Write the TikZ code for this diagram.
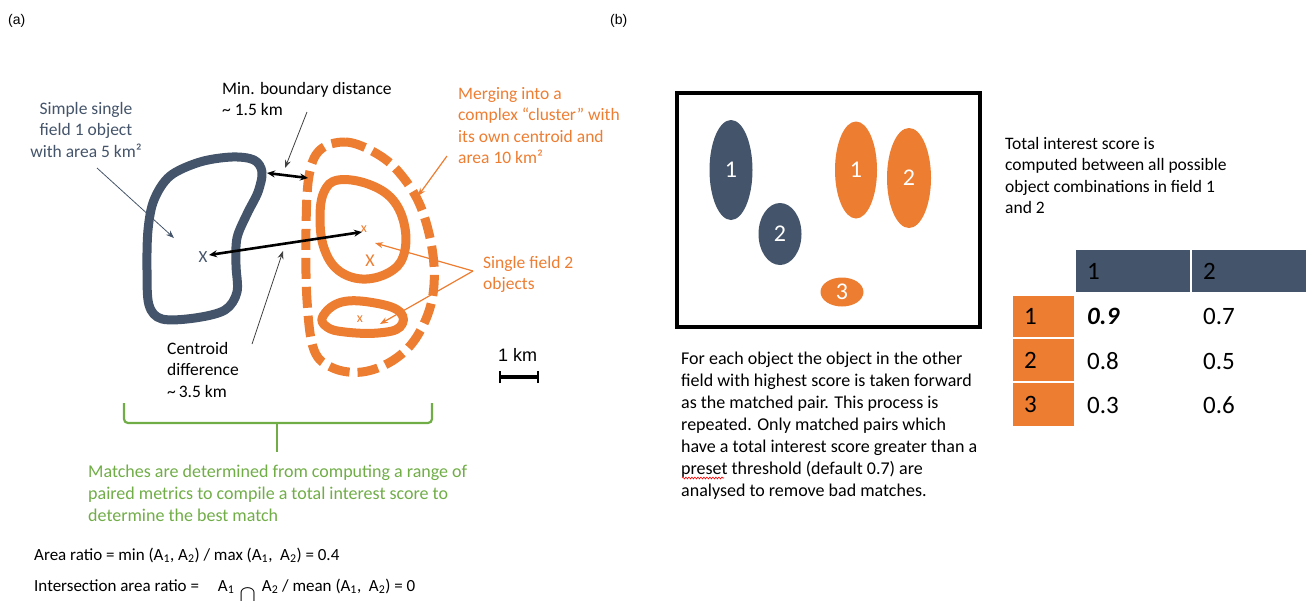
\documentclass[tikz,border=0pt]{standalone}
\usepackage{fontspec}
\setmainfont{Carlito}
\newfontfamily\arialf{Liberation Sans}
\usetikzlibrary{arrows.meta,decorations.pathmorphing,shapes.geometric}
\definecolor{slate}{HTML}{44546A}
\definecolor{orng}{HTML}{ED7D31}
\definecolor{grn}{HTML}{70AD47}
\definecolor{ptrgray}{HTML}{404040}
\begin{document}
\begin{tikzpicture}[x=1pt,y=-1pt,
  txt/.style={inner sep=0pt, anchor=base west, align=left, font=\fontsize{17.5}{21.5}\selectfont},
  txtc/.style={inner sep=0pt, anchor=base, align=center, font=\fontsize{17.5}{21.5}\selectfont},
  btxt/.style={inner sep=0pt, anchor=base west, align=left, font=\fontsize{18}{22}\selectfont},
  ptr/.style={-{Stealth[length=8pt,width=6pt]}, line width=0.8pt},
  dbl/.style={{Stealth[length=8pt,width=7pt]}-{Stealth[length=8pt,width=7pt]}, line width=2.6pt},
  objline/.style={line width=9pt, line join=round},
  obj/.style={ellipse, inner sep=0pt, text=white, font=\fontsize{24}{24}\selectfont},
  hcell/.style={anchor=north west, fill=slate, inner xsep=11pt, inner ysep=0pt, minimum height=42pt, align=left, font=\fontsize{25}{25}\selectfont},
  rcell/.style={anchor=north west, fill=orng, inner xsep=11pt, inner ysep=0pt, minimum height=42pt, text width=39pt, align=left, font=\fontsize{25}{25}\selectfont},
  val/.style={anchor=west, inner sep=0pt, font=\fontsize{25}{25}\selectfont},
  panel/.style={inner sep=0pt, anchor=base west, font=\arialf\fontsize{14}{14}\selectfont}
]
\useasboundingbox (0,0) rectangle (1306,600);

% panel labels
\node[panel] (pa) at (8,24) {(a)};
\node[panel] (pb) at (610,24) {(b)};

% ---------- panel (a) shapes ----------
% field 1 object
\draw[slate, objline] plot[smooth cycle, tension=0.55] coordinates {
  (254,160) (262,172) (258,192) (247,214) (237,238) (236,265) (237,292) (225,310) (195,318)
  (162,319) (149,305) (147,270) (148,230) (154,200) (170,176) (200,162) (232,157)};
% inner orange object
\draw[orng, objline] plot[smooth cycle, tension=0.65] coordinates {
  (338,180) (368,184) (393,200) (405,228) (403,257) (388,273) (362,279) (338,270)
  (324,248) (320,218) (324,192)};
% lower orange object
\draw[orng, objline] plot[smooth cycle, tension=0.7] coordinates {
  (323,316) (342,302) (375,303) (400,312) (400,327) (378,333) (345,332) (327,327)};
% dashed cluster outline
\draw[orng, line width=9pt, dash pattern=on 21pt off 8pt] plot[smooth cycle, tension=0.6] coordinates {
  (320,150) (345,142) (372,151) (397,170) (420,205) (433,255) (432,300) (416,338)
  (392,361) (362,372) (333,368) (314,350) (307,300) (306,230) (309,176)};

% centroid marks
\node[inner sep=0pt, text=slate, font=\fontsize{17}{17}\selectfont] (x1) at (203,257) {X};
\node[inner sep=0pt, text=orng, font=\fontsize{14}{14}\selectfont] (x2) at (364,229) {x};
\node[inner sep=0pt, text=orng, font=\fontsize{18}{18}\selectfont] (x3) at (370,261) {X};
\node[inner sep=0pt, text=orng, font=\fontsize{14}{14}\selectfont] (x4) at (360,319) {x};

% distance arrows
\coordinate (b1) at (267,173);
\coordinate (b2) at (308,178);
\draw[dbl] (b1) -- (b2);
\coordinate (c1) at (209,255);
\coordinate (c2) at (362,232);
\draw[dbl] (c1) -- (c2);

% labels (a)  (anchor base = baseline of the last line)
\node[txt] (minb) at (222,115.5) {Min. boundary distance\\\textasciitilde\ 1.5 km};
\coordinate (minbp) at (307,112);
\coordinate (minbe) at (285,168);
\draw[ptr, ptrgray] (minbp) -- (minbe);

\node[txtc, text=slate] (simple) at (86,157) {Simple single\\field 1 object\\with area 5 km²};
\coordinate (simp) at (97,168);
\coordinate (sime) at (174,238);
\draw[ptr, slate] (simp) -- (sime);

\node[txt] (cent) at (167,397) {Centroid\\difference\\\textasciitilde\,3.5 km};
\coordinate (centp) at (252,344);
\coordinate (cente) at (283,251);
\draw[ptr, ptrgray] (centp) -- (cente);

\node[txt, text=orng] (merge) at (458,163.5) {Merging into a\\complex “cluster” with\\its own centroid and\\area 10 km²};
\coordinate (mergp) at (447,156);
\coordinate (merge2) at (418,196);
\draw[ptr, orng, line width=1.2pt] (mergp) -- (merge2);

\node[txt, text=orng] (single) at (483,289.5) {Single field 2\\objects};
\coordinate (sp) at (473,271);
\coordinate (se1) at (375,243);
\coordinate (se2) at (380,324);
\draw[ptr, orng, line width=1.2pt] (sp) -- (se1);
\draw[ptr, orng, line width=1.2pt] (sp) -- (se2);

% scale bar
\node[inner sep=0pt, anchor=base west, font=\arialf\fontsize{18}{18}\selectfont] (km) at (498,361) {1 km};
\coordinate (sb1) at (500,377);
\coordinate (sb2) at (538,377);
\draw[line width=3.5pt] (sb1) -- (sb2);
\draw[line width=2.5pt] ([yshift=-6pt]sb1) -- ([yshift=6pt]sb1);
\draw[line width=2.5pt] ([yshift=-6pt]sb2) -- ([yshift=6pt]sb2);

% green brace
\coordinate (brl) at (124,403);
\coordinate (brr) at (432,403);
\coordinate (brm) at (277,423);
\coordinate (brt) at (277,452);
\draw[grn, line width=2.2pt, rounded corners=4pt] (brl) -- (124,423) -- (432,423) -- (brr);
\draw[grn, line width=2.2pt] (brm) -- (brt);

\node[btxt, text=grn] (match) at (88,521) {Matches are determined from computing a range of\\paired metrics to compile a total interest score to\\determine the best match};

\node[btxt, font=\fontsize{17}{17}\selectfont] (area) at (34,560) {Area ratio = min (A\textsubscript{1}, A\textsubscript{2}) / max (A\textsubscript{1},\ \ A\textsubscript{2}) = 0.4};
\node[btxt, font=\fontsize{17}{17}\selectfont] (inter) at (34,591) {Intersection area ratio =\hspace{19pt}A\textsubscript{1}\hspace{5pt}\raisebox{-11pt}{\fontsize{29}{29}\selectfont$\cap$}\hspace{6pt}A\textsubscript{2} / mean (A\textsubscript{1},\ \ A\textsubscript{2}) = 0};

% ---------- panel (b) ----------
\draw[line width=4pt] (677,93) rectangle (980,327);
\node[obj, fill=slate, minimum width=43pt, minimum height=100pt] (f1a) at (731,170) {1};
\node[obj, fill=slate, minimum width=43pt, minimum height=62pt] (f1b) at (780,234) {2};
\node[obj, fill=orng, minimum width=42pt, minimum height=97pt] (f2a) at (856,170) {1};
\node[obj, fill=orng, minimum width=44pt, minimum height=100pt] (f2b) at (909,178) {2};
\node[obj, fill=orng, minimum width=43pt, minimum height=29pt] (f2c) at (842,292) {3};

\node[btxt] (foreach) at (681,496) {For each object the object in the other\\field with highest score is taken forward\\as the matched pair. This process is\\repeated. Only matched pairs which\\have a total interest score greater than a\\preset threshold (default 0.7) are\\analysed to remove bad matches.};
\coordinate (sq1) at (682,478);
\coordinate (sq2) at (724,478);
\draw[red, line width=0.6pt, decorate, decoration={snake, amplitude=0.9pt, segment length=3pt}] (sq1) -- (sq2);

\node[txt] (total) at (1005,213.5) {Total interest score is\\computed between all possible\\object combinations in field 1\\and 2};

% table
\node[hcell, text width=92pt] (h1) at (1076,250) {1};
\node[hcell, text width=120pt] (h2) at (1192,250) {2};
\node[rcell, minimum height=41pt] (r1) at (1013,296) {1};
\node[rcell, minimum height=42pt] (r2) at (1013,339) {2};
\node[rcell, minimum height=43pt] (r3) at (1013,383) {3};
\node[val] (v11) at (1087,316) {\textbf{\textit{0.9}}};
\node[val] (v12) at (1203,316) {0.7};
\node[val] (v21) at (1087,361) {0.8};
\node[val] (v22) at (1203,361) {0.5};
\node[val] (v31) at (1087,405) {0.3};
\node[val] (v32) at (1203,405) {0.6};
\end{tikzpicture}
\end{document}
